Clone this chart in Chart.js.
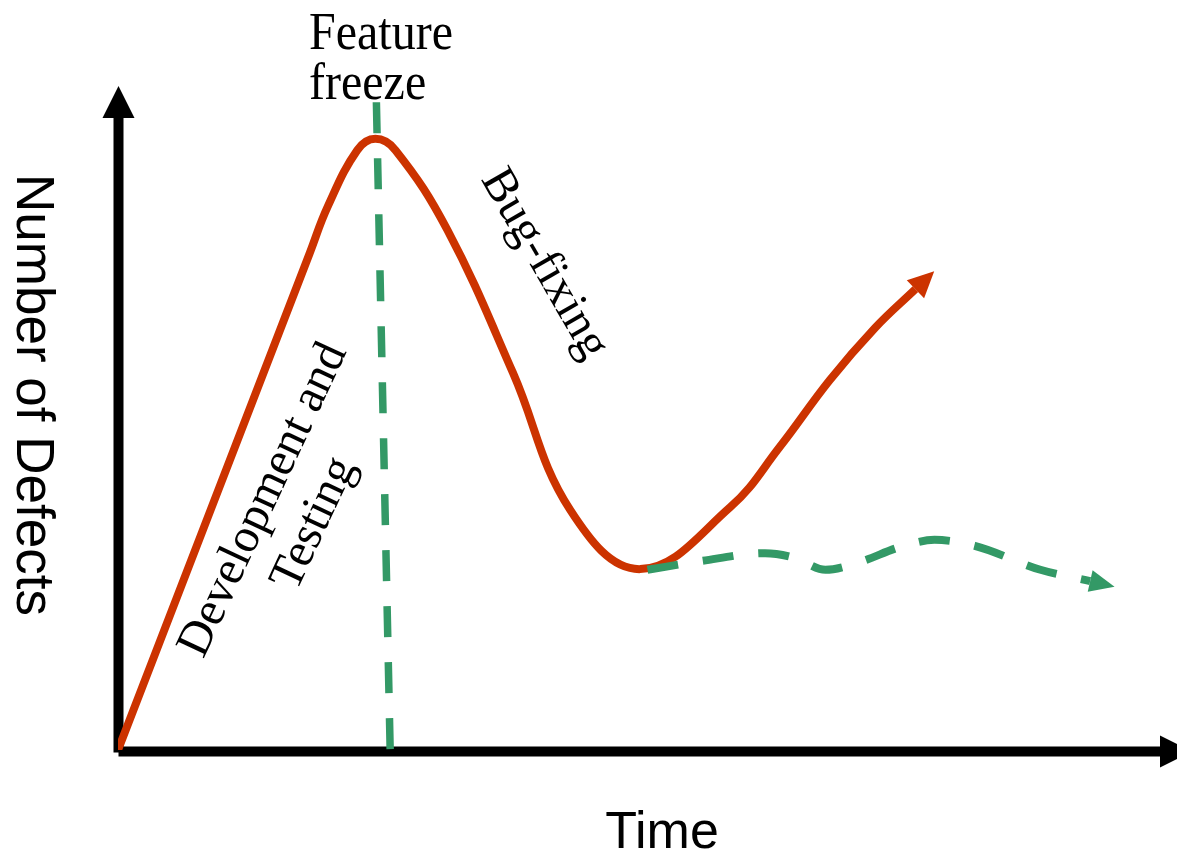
<!DOCTYPE html>
<html>
<head>
<meta charset="utf-8">
<script src="https://cdn.jsdelivr.net/npm/chart.js@4"></script>
<style>
html, body { margin: 0; padding: 0; background: #fff; }
#wrap { width: 1177px; height: 854px; position: relative; }
</style>
</head>
<body>
<div id="wrap"><canvas id="defectChart"></canvas></div>
<script>
// defect curve (red): rises during development, peaks at freeze, bug-fixing, then rises again
const defectX = [0, 18.1, 19.8, 22.6, 24.3, 26.2, 31.1, 37.3, 42.7, 49.3, 57.8, 62.5, 67.2, 71.5, 75.3];
const defectY = [0, 74.7, 81.7, 90.2, 91.9, 90.2, 78.2, 56.7, 36.1, 27.2, 36.5, 45.6, 55.6, 63.5, 69.3];
// alternative path after bug-fixing (green dashed)
const stableX = [50.0, 55.0, 61.1, 63.9, 66.8, 70.1, 73.8, 77.1, 80.9, 87.1, 91.8];
const stableY = [27.1, 28.4, 29.6, 28.9, 27.1, 28.3, 30.5, 31.6, 30.7, 27.1, 25.4];
// feature freeze marker
const freezeX = [24.4, 25.7];
const freezeY = [97.4, 0];

const xTitle = 'Time';
const yTitle = 'Number of Defects';
const freezeLabel = ['Feature', 'freeze'];
const devLabel = ['Development and', 'Testing'];
const bugLabel = 'Bug-fixing';

const red = '#cc3300';
const green = '#339966';
const serif = '"Liberation Serif", "Times New Roman", serif';
const sans = '"Liberation Sans", Arial, sans-serif';

const toPoints = (xs, ys) => xs.map((x, i) => ({ x, y: ys[i] }));

const axesPlugin = {
    id: 'axes',
    beforeDatasetsDraw(chart) {
        const { ctx, scales: { x, y }, chartArea } = chart;
        const ox = x.getPixelForValue(0) + 0.5;
        const oy = y.getPixelForValue(0) + 1.5;
        ctx.save();
        ctx.strokeStyle = '#000';
        ctx.fillStyle = '#000';
        ctx.lineWidth = 10;
        // y axis
        const yTip = chartArea.top + 1;
        ctx.beginPath();
        ctx.moveTo(ox, oy + 1);
        ctx.lineTo(ox, yTip + 28);
        ctx.stroke();
        ctx.beginPath();
        ctx.moveTo(ox, yTip);
        ctx.lineTo(ox - 16, yTip + 32);
        ctx.lineTo(ox + 16, yTip + 32);
        ctx.closePath();
        ctx.fill();
        // x axis
        const xTip = chartArea.right + 15;
        ctx.beginPath();
        ctx.moveTo(ox, oy);
        ctx.lineTo(xTip - 28, oy);
        ctx.stroke();
        ctx.beginPath();
        ctx.moveTo(xTip, oy);
        ctx.lineTo(xTip - 32, oy - 16);
        ctx.lineTo(xTip - 32, oy + 16);
        ctx.closePath();
        ctx.fill();
        ctx.restore();
    }
};

const arrowPlugin = {
    id: 'arrowHeads',
    afterDatasetsDraw(chart) {
        const ctx = chart.ctx;
        chart.data.datasets.forEach((ds, i) => {
            if (!ds.arrow) return;
            const pts = chart.getDatasetMeta(i).data;
            const p = pts[pts.length - 1];
            const q = pts[pts.length - 2];
            let dx = p.x - (p.cp1x ?? q.x);
            let dy = p.y - (p.cp1y ?? q.y);
            const n = Math.hypot(dx, dy) || 1;
            dx /= n; dy /= n;
            const { len, half } = ds.arrow;
            ctx.save();
            ctx.fillStyle = ds.borderColor;
            ctx.beginPath();
            ctx.moveTo(p.x + dx * len, p.y + dy * len);
            ctx.lineTo(p.x - dy * half, p.y + dx * half);
            ctx.lineTo(p.x + dy * half, p.y - dx * half);
            ctx.closePath();
            ctx.fill();
            ctx.restore();
        });
    }
};

const labelPlugin = {
    id: 'labels',
    afterDraw(chart) {
        const ctx = chart.ctx;
        ctx.save();
        ctx.fillStyle = '#000';

        ctx.font = '48px ' + serif;
        ctx.textAlign = 'left';
        ctx.textBaseline = 'alphabetic';
        [[freezeLabel[0], 49], [freezeLabel[1], 99]].forEach(([t, by]) => {
            ctx.save();
            ctx.translate(309, by);
            ctx.scale(1, 1.12);
            ctx.fillText(t, 0, 0);
            ctx.restore();
        });

        ctx.font = '52px ' + sans;
        ctx.textAlign = 'center';
        ctx.fillText(xTitle, 662, 848);

        ctx.textBaseline = 'middle';
        ctx.save();
        ctx.font = '53px ' + sans;
        ctx.translate(32, 395);
        ctx.rotate(Math.PI / 2);
        ctx.fillText(yTitle, 0, 0);
        ctx.restore();

        ctx.font = '48px ' + serif;
        ctx.save();
        ctx.translate(289, 512);
        ctx.rotate(-65 * Math.PI / 180);
        ctx.fillText(devLabel[0], 0, -28);
        ctx.fillText(devLabel[1], 0, 28);
        ctx.restore();

        ctx.save();
        ctx.translate(544, 264);
        ctx.rotate(60 * Math.PI / 180);
        ctx.fillText(bugLabel, 0, 0);
        ctx.restore();

        ctx.restore();
    }
};

new Chart(document.getElementById('defectChart'), {
    type: 'line',
    data: {
        datasets: [
            {
                data: toPoints(freezeX, freezeY),
                borderColor: green, borderWidth: 7.5, borderDash: [31, 25],
                pointRadius: 0, tension: 0, order: 0
            },
            {
                data: toPoints(stableX, stableY),
                borderColor: green, borderWidth: 8, borderDash: [31, 25],
                pointRadius: 0, cubicInterpolationMode: 'monotone', order: 1,
                arrow: { len: 25, half: 11 }
            },
            {
                data: toPoints(defectX, defectY),
                borderColor: red, borderWidth: 8,
                pointRadius: 0, tension: 0.4, order: 2,
                arrow: { len: 26, half: 12.5 }
            }
        ]
    },
    options: {
        responsive: true,
        maintainAspectRatio: false,
        animation: false,
        devicePixelRatio: 1,
        layout: { padding: { left: 118, right: 0, top: 85, bottom: 104 } },
        plugins: { legend: { display: false }, tooltip: { enabled: false } },
        scales: {
            x: { type: 'linear', min: 0, max: 100, display: false },
            y: { type: 'linear', min: 0, max: 100, display: false }
        }
    },
    plugins: [axesPlugin, arrowPlugin, labelPlugin]
});
</script>
</body>
</html>
